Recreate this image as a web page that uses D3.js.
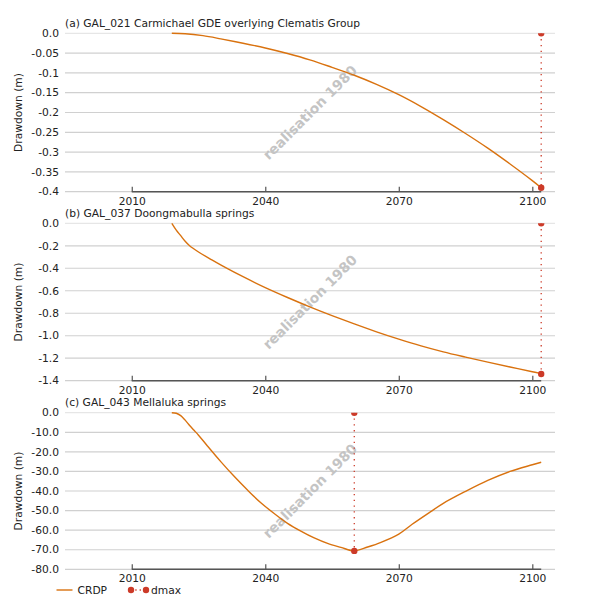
<!DOCTYPE html>
<html>
<head>
<meta charset="utf-8">
<script src="https://cdn.jsdelivr.net/npm/d3@7"></script>
<style>
  html, body { margin: 0; padding: 0; background: #fff; }
  svg { display: block; font-family: "DejaVu Sans", sans-serif; }
</style>
</head>
<body>
<svg id="chart" width="604" height="616"></svg>
<script>
// ---- data ----
const panelTitles = [
  "(a) GAL_021 Carmichael GDE overlying Clematis Group",
  "(b) GAL_037 Doongmabulla springs",
  "(c) GAL_043 Mellaluka springs"
];
const xTickValues = [2010, 2040, 2070, 2100];
const xAxisStart = 2010;
const xAxisEnd = 2102;

const yearsA = [2019, 2022, 2026, 2030, 2035, 2040, 2045, 2050, 2055, 2060, 2065, 2070, 2075, 2080, 2085, 2090, 2095, 2100, 2102];
const crdpA  = [0, -0.001, -0.006, -0.014, -0.025, -0.037, -0.051, -0.067, -0.086, -0.106, -0.129, -0.155, -0.185, -0.218, -0.253, -0.29, -0.33, -0.372, -0.39];

const yearsB = [2019, 2020, 2021, 2022, 2023, 2025, 2028, 2031, 2035, 2040, 2045, 2050, 2055, 2060, 2065, 2070, 2075, 2080, 2085, 2090, 2095, 2100, 2102];
const crdpB  = [0, -0.06, -0.11, -0.16, -0.2, -0.255, -0.325, -0.392, -0.475, -0.572, -0.66, -0.743, -0.821, -0.895, -0.965, -1.03, -1.09, -1.143, -1.19, -1.235, -1.278, -1.32, -1.337];

const yearsC = [2019, 2020, 2021, 2022, 2023, 2024, 2025, 2027, 2030, 2033, 2036, 2039, 2042, 2045, 2048, 2051, 2054, 2057, 2060, 2063, 2066, 2070, 2073, 2077, 2080, 2085, 2090, 2095, 2100, 2102];
const crdpC  = [0, -0.3, -1.5, -3.8, -6.5, -9, -11.5, -17, -25, -32.5, -39.5, -46, -51.5, -56.5, -60.5, -64, -66.8, -68.8, -70.6, -68.6, -66.2, -62, -57, -50.8, -46.3, -40.2, -34.6, -30, -26.6, -25.3];

const dmaxYears  = [2102, 2102, 2060];
const dmaxValues = [-0.39, -1.34, -70.6];

const yTicksA = [0, -0.05, -0.1, -0.15, -0.2, -0.25, -0.3, -0.35, -0.4];
const yLabelsA = ["0.0", "-0.05", "-0.1", "-0.15", "-0.2", "-0.25", "-0.3", "-0.35", "-0.4"];
const yTicksB = [0, -0.2, -0.4, -0.6, -0.8, -1.0, -1.2, -1.4];
const yLabelsB = ["0.0", "-0.2", "-0.4", "-0.6", "-0.8", "-1.0", "-1.2", "-1.4"];
const yTicksC = [0, -10, -20, -30, -40, -50, -60, -70, -80];
const yLabelsC = ["0.0", "-10.0", "-20.0", "-30.0", "-40.0", "-50.0", "-60.0", "-70.0", "-80.0"];

const watermark = "realisation 1980";
const yAxisTitle = "Drawdown (m)";
const legendLabels = ["CRDP", "dmax"];

// ---- layout ----
const panels = [
  { title: panelTitles[0], years: yearsA, vals: crdpA, ticks: yTicksA, labels: yLabelsA, top: 33.3, bottom: 191.7 },
  { title: panelTitles[1], years: yearsB, vals: crdpB, ticks: yTicksB, labels: yLabelsB, top: 223.3, bottom: 380.7 },
  { title: panelTitles[2], years: yearsC, vals: crdpC, ticks: yTicksC, labels: yLabelsC, top: 412.7, bottom: 569.3 }
];
const left = 65, right = 555;
const lineColor = "#d9720f";
const dmaxColor = "#cc3a28";
const fs = 10.7;

const svg = d3.select("#chart");
const x = d3.scaleLinear().domain([1995, 2105.1]).range([left, right]);

panels.forEach((p, i) => {
  const yMin = p.ticks[p.ticks.length - 1];
  const y = d3.scaleLinear().domain([yMin, 0]).range([p.bottom, p.top]);
  const g = svg.append("g");

  const clipId = "clip" + i;
  svg.append("clipPath").attr("id", clipId)
    .append("rect").attr("x", left).attr("y", p.top).attr("width", right - left).attr("height", p.bottom - p.top + 6);

  // gridlines
  g.selectAll(".grid").data(p.ticks).enter().append("line")
    .attr("x1", left).attr("x2", right)
    .attr("y1", d => y(d)).attr("y2", d => y(d))
    .attr("stroke", (d, k) => k === 0 ? "#e6e6e6" : "#d0d0d0")
    .attr("stroke-width", 1.2);

  // y tick labels
  g.selectAll(".ylab").data(p.ticks).enter().append("text")
    .attr("x", 59).attr("y", d => y(d)).attr("dy", "0.35em")
    .attr("text-anchor", "end").attr("font-size", fs).attr("fill", "#222")
    .text((d, k) => p.labels[k]);

  // y axis title
  g.append("text")
    .attr("transform", `translate(22,${(p.top + p.bottom) / 2}) rotate(-90)`)
    .attr("text-anchor", "middle").attr("font-size", fs).attr("fill", "#222")
    .text(yAxisTitle);

  // title
  g.append("text").attr("x", left).attr("y", p.top - 6.5)
    .attr("font-size", fs).attr("fill", "#222").text(p.title);

  // watermark
  g.append("text")
    .attr("transform", `translate(${(left + right) / 2},${(p.top + p.bottom) / 2}) rotate(-45)`)
    .attr("text-anchor", "middle").attr("dy", "0.35em")
    .attr("font-size", 13.8).attr("font-weight", "bold").attr("fill", "#c4c4c4")
    .text(watermark);

  // x axis
  const axis = d3.axisBottom(x).tickValues(xTickValues).tickFormat(d3.format("d"))
    .tickSizeInner(-5).tickSizeOuter(0).tickPadding(5.5);
  const ax = g.append("g").attr("transform", `translate(0,${p.bottom})`).call(axis);
  ax.select(".domain").remove();
  ax.selectAll(".tick line").attr("stroke", "#555").attr("stroke-width", 1.2);
  ax.selectAll(".tick text").attr("font-size", fs).attr("fill", "#222")
    .attr("font-family", "DejaVu Sans, sans-serif");
  g.append("line")
    .attr("x1", x(xAxisStart)).attr("x2", x(xAxisEnd))
    .attr("y1", p.bottom).attr("y2", p.bottom)
    .attr("stroke", "#555").attr("stroke-width", 1.6);

  // CRDP line
  const lineGen = d3.line().x((d, k) => x(p.years[k])).y(d => y(d)).curve(d3.curveCatmullRom.alpha(0.5));
  g.append("path").datum(p.vals)
    .attr("d", lineGen)
    .attr("fill", "none").attr("stroke", lineColor).attr("stroke-width", 1.4);

  // dmax
  const dg = g.append("g").attr("clip-path", `url(#${clipId})`);
  const dx = x(dmaxYears[i]);
  dg.append("line")
    .attr("x1", dx).attr("x2", dx)
    .attr("y1", y(0)).attr("y2", y(dmaxValues[i]))
    .attr("stroke", dmaxColor).attr("stroke-width", 1.3)
    .attr("stroke-dasharray", "1.3,4.5");
  dg.selectAll(".dm").data([0, dmaxValues[i]]).enter().append("circle")
    .attr("cx", dx).attr("cy", d => y(d)).attr("r", 3.2)
    .attr("fill", dmaxColor);
});

// legend
const ly = 590;
const lg = svg.append("g");
lg.append("line").attr("x1", 56.5).attr("x2", 72.5).attr("y1", ly).attr("y2", ly)
  .attr("stroke", lineColor).attr("stroke-width", 1.4);
lg.append("text").attr("x", 77.5).attr("y", ly).attr("dy", "0.35em")
  .attr("font-size", fs).attr("fill", "#222").text(legendLabels[0]);
lg.append("line").attr("x1", 131).attr("x2", 146).attr("y1", ly).attr("y2", ly)
  .attr("stroke", dmaxColor).attr("stroke-width", 1.3).attr("stroke-dasharray", "1.3,3");
lg.selectAll(".lc").data([131, 146]).enter().append("circle")
  .attr("cx", d => d).attr("cy", ly).attr("r", 3.2).attr("fill", dmaxColor);
lg.append("text").attr("x", 151).attr("y", ly).attr("dy", "0.35em")
  .attr("font-size", fs).attr("fill", "#222").text(legendLabels[1]);
</script>
</body>
</html>
